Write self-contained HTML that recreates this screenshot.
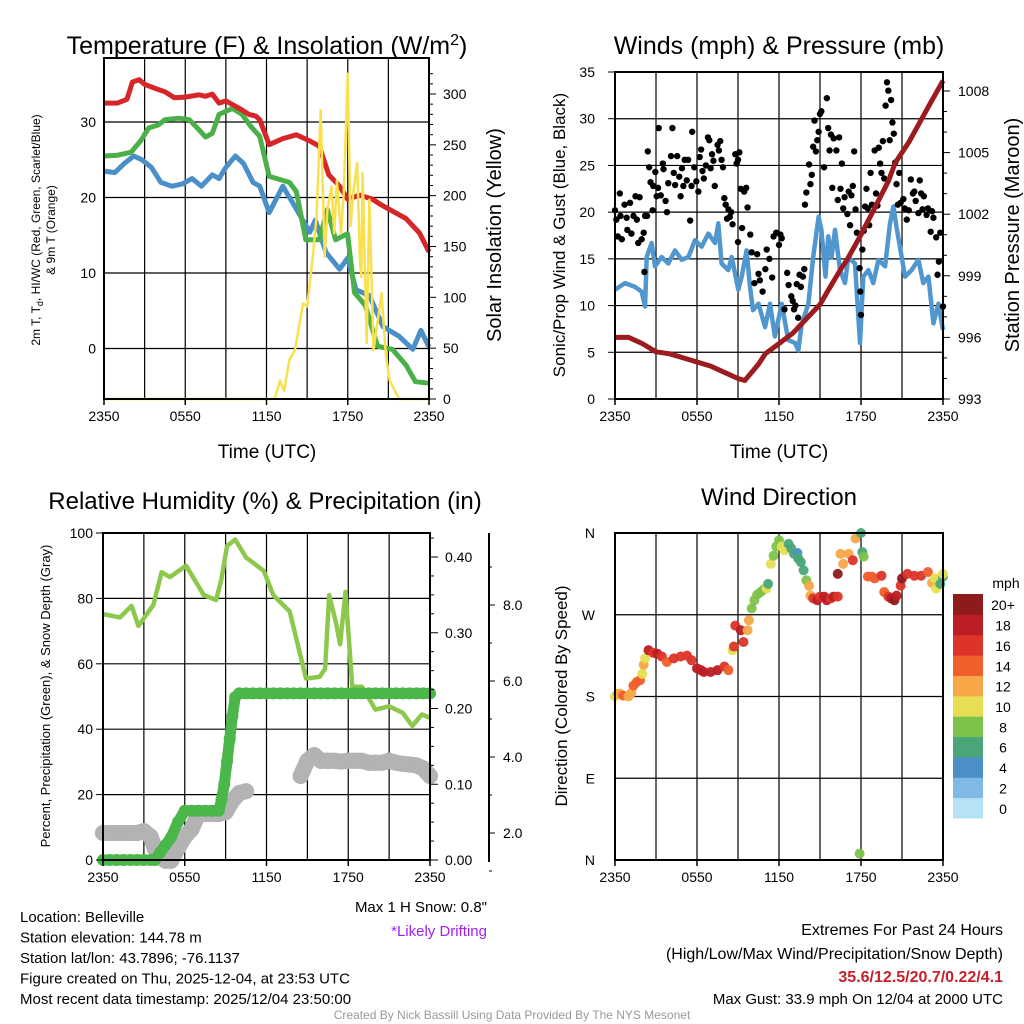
<!DOCTYPE html>
<html><head><meta charset="utf-8"><style>
body{margin:0;background:#fff;}
svg{display:block;font-family:"Liberation Sans",sans-serif;}
</style></head><body>
<svg id="c" width="1024" height="1024" viewBox="0 0 1024 1024"></svg>
<script>
// ---------- Panel 1: temperature & insolation ----------
const tRedH=[0,1,1.7,2.1,2.6,3,3.7,4.5,5.2,6,7,7.5,8,8.5,9,10,10.7,11.2,11.5,12.2,13.2,14.2,15.2,15.9,16.6,17.4,17.98,18.9,19.8,20.5,21.3,22.3,23.3,24];
const tRedV=[32.5,32.5,33,35.3,35.6,35,34.5,34,33.2,33.3,33.6,33.4,33.7,32.5,32.8,31.8,31,30.8,30.3,27,27.8,28.3,27.5,26.8,23,21.5,19.8,20.3,19.8,19,18.2,17.2,15.3,12.8];
const tGrnH=[0,1,2,2.7,3.3,4,4.5,5.5,6.3,7,7.5,8,8.5,9.5,10.2,10.8,11.5,12.2,13.7,14.2,14.9,15.9,16.5,17.1,17.98,18.5,19.3,20.2,21.3,22.3,23,24];
const tGrnV=[25.5,25.6,26,27.5,29.2,29.6,30.3,30.5,30.3,29,28,28.5,31,31.8,31,29.5,28.1,22.8,22,20.8,14.4,14.4,18.4,14.4,15.2,7.4,5.7,0.3,-0.1,-2.2,-4.4,-4.6];
const tBluH=[0,0.8,1.5,2.2,2.8,3.5,4.2,5,5.8,6.5,7.2,8,8.5,9,9.7,10.3,11,11.5,12.2,13.2,13.9,15.2,15.6,16.4,17.4,18,18.6,19.6,20.6,21.8,22.8,23.4,24];
const tBluV=[23.5,23.3,24.5,25.5,25,24,22,21.5,21.8,22.5,21.5,23,22.5,24,25.5,24.5,22,21.5,18,21.5,19.4,15.4,17,12.7,10.5,12,7.8,7,2.9,1.6,-0.1,2.4,0.2];
const solH=[0,12.6,13,13.3,13.7,14.1,14.7,15.0,15.4,15.7,16.0,16.3,16.5,16.8,17.0,17.2,17.5,17.7,18.0,18.2,18.4,18.7,18.9,19.0,19.1,19.4,19.6,19.9,20.5,20.8,21.1,21.8,24];
const solV=[0,0,18,8,39,48,94,91,137,180,284,140,186,209,163,215,163,202,320,170,202,232,137,120,222,55,196,48,104,45,18,0,0];
const tTicks=[0,10,20,30];
const solTicks=[0,50,100,150,200,250,300];
const timeLabels=["2350","0550","1150","1750","2350"];
// ---------- Panel 2: winds & pressure ----------
const windH=[0,0.73,1.46,1.95,2.2,2.32,2.68,2.93,3.41,3.9,4.39,4.88,5.37,5.85,6.34,6.83,7.32,7.56,7.8,8.29,8.54,9.02,9.27,9.63,9.88,10.1,10.5,10.98,11.34,11.7,12.2,12.68,13.17,13.41,13.66,14.15,14.5,14.9,15.1,15.4,15.6,15.85,16.1,16.46,16.83,17.07,17.56,17.93,18.17,18.54,18.9,19.27,19.76,20.12,20.37,20.6,20.98,21.22,21.7,22.2,22.56,22.93,23.3,23.66,24];
const windV=[11.7,12.4,12,11.5,9.9,15.2,16.7,14.2,15.2,14.5,15.9,14.9,15.2,17,16.3,17.7,16.7,18.8,14.5,13.8,15.2,11.7,13.1,15.9,12,9.5,10.2,7.7,10.2,6.7,10.2,6.3,6,5.2,8,10.2,15.2,19.5,18.1,13.1,17.4,15.2,18.1,13.8,12.4,15.2,14.5,6,13.1,13.8,12.4,14.9,14.2,18.8,20.6,18.4,15.2,13.1,13.8,14.9,12.4,13.1,8.1,10.2,7.4];
const gustH=[0,0.1,0.2,0.35,0.4,0.5,0.7,0.85,0.9,1.1,1.2,1.35,1.5,1.6,1.7,1.8,1.95,2.1,2.15,2.2,2.35,2.4,2.5,2.6,2.75,2.8,2.95,3.05,3.15,3.2,3.35,3.5,3.55,3.7,3.8,3.9,4.1,4.2,4.3,4.4,4.55,4.7,4.8,4.9,5,5.1,5.25,5.35,5.5,5.6,5.65,5.8,5.95,6.1,6.2,6.3,6.4,6.5,6.65,6.8,6.9,7,7.1,7.2,7.3,7.5,7.6,7.7,7.8,7.9,8,8.1,8.2,8.3,8.4,8.5,8.6,8.8,8.9,9,9.1,9.2,9.3,9.45,9.6,9.7,9.0,9.9,10,10.2,10.4,10.5,10.6,10.8,11,11.1,11.3,11.5,11.6,11.8,12,12.1,12.2,12.4,12.6,12.7,12.9,13,13.1,13.2,13.3,13.4,13.5,13.6,13.75,13.85,13.9,14,14.2,14.3,14.4,14.5,14.6,14.7,14.8,14.9,15,15.1,15.3,15.5,15.6,15.7,15.8,15.9,16,16.2,16.3,16.4,16.5,16.6,16.7,16.8,17,17.1,17.2,17.3,17.4,17.5,17.6,17.7,17.9,17.95,18,18.1,18.2,18.3,18.4,18.5,18.6,18.7,18.8,19,19.1,19.2,19.3,19.4,19.5,19.6,19.7,19.8,19.9,20,20.1,20.2,20.3,20.4,20.5,20.6,20.7,20.8,20.9,21.1,21.2,21.35,21.5,21.65,21.8,21.9,22,22.2,22.3,22.4,22.5,22.6,22.8,22.9,23.1,23.2,23.3,23.5,23.6,23.7,23.8,24];
const gustV=[20.2,19.2,17.4,22,19.6,17.1,20.8,19.4,18.1,21,17.7,19.6,21.7,19.2,16.7,21.6,17.1,17.8,13.6,19.6,19.6,26.5,24.8,23.2,20.2,22.8,24.3,21.7,22.6,29,21.8,25.2,24.6,21.2,20,23.1,26,29,24.2,22.9,26,23.8,21.7,24.7,22.8,25.6,23.4,25.6,19.1,22.8,28.6,24.8,23.3,22.2,25.9,26.7,24.4,23.6,25,28,27.7,24.7,26.2,25.5,22.8,27.2,26.6,27.6,25.6,24.8,21.5,20.8,19.3,20.3,19.5,20,18.7,26.2,25.2,25.6,26.4,22.5,18.3,22.2,22.6,20.5,16.8,17.6,15.7,12.4,15.5,13.4,12.7,11.5,13.9,16,15,13,17.4,17.8,16.5,17.6,17.2,9.6,13.5,12.2,11,10.5,9.6,10,12.3,8.7,13.3,12,13.1,13.9,20.8,22.1,25.1,23,24,27,29.8,26.5,27.7,28.6,30.5,30.8,24.8,32.2,29,26.6,28.3,22.6,27.9,26.6,21.3,28,22.5,25.2,20.4,21.6,19.8,22.2,18.6,21.8,22.8,26.5,20.3,17.8,14,11.5,9,16,18,20.6,22.5,20.4,18.6,24.2,20.8,26.6,22,20.7,26.9,25.2,24.2,27.6,23.6,31.4,33.9,33,27.7,32,29.6,28.4,25.3,23,20.8,24.2,21,21.4,20.4,19.2,20.2,23.5,22,22.2,21.2,19.9,23.4,22,20.3,21.7,19.7,20.4,17.9,20.1,19.4,17.3,13.3,14.7,17.8,9.9];
const presH=[0,1,2,3,4,5,6,7,8,9,9.5,10,10.5,11,12,13,14,15,15.6,16.5,17,18,19,20,20.5,21.5,22.9,24];
const presV=[996.0,996.0,995.7,995.3,995.2,995.0,994.8,994.6,994.3,994.0,993.9,994.3,994.7,995.2,995.7,996.2,996.9,997.6,998.3,999.3,999.8,1001.0,1002.3,1003.6,1004.5,1005.5,1007.2,1008.5];
const windTicks=[0,5,10,15,20,25,30,35];
const presTicks=[993,996,999,1002,1005,1008];
// ---------- Panel 3: RH, precip, snow ----------
const rhH=[0,1.25,2.1,2.6,3.7,4.3,4.9,6.1,7.4,8.3,8.7,9.1,9.7,10.5,11.8,12.5,13.7,14.9,15.9,16.3,16.6,17.1,17.4,17.8,18.3,19,20,21,22,22.7,23.4,24];
const rhV=[75.2,74.2,77.7,71.6,78,88,86.5,90,81,79.5,86,96,98,92.5,88.4,81,76,55.5,56,58.5,81,72.5,66,82,53,53,46,47,45,41,44.5,43.5];
const prH=[0,0.5,1,1.5,2,2.5,3,3.5,3.8,4.2,4.6,5,5.5,6,6.5,7,7.5,8,8.5,8.7,8.9,9.1,9.3,9.5,9.7,10,10.5,11,11.5,12,12.5,13,13.5,14,14.5,15,15.5,16,16.5,17,17.5,18,18.5,19,19.5,20,20.5,21,21.5,22,22.5,23,23.5,24];
const prV=[0,0,0,0,0,0,0,0,0,0.01,0.02,0.03,0.05,0.065,0.065,0.065,0.065,0.065,0.065,0.08,0.1,0.13,0.16,0.19,0.215,0.22,0.22,0.22,0.22,0.22,0.22,0.22,0.22,0.22,0.22,0.22,0.22,0.22,0.22,0.22,0.22,0.22,0.22,0.22,0.22,0.22,0.22,0.22,0.22,0.22,0.22,0.22,0.22,0.22];
const snH=[0,0.5,1,1.5,2,2.5,3,3.5,3.8,4.2,4.6,5,5.5,6,6.5,7,7.5,8,8.5,9,9.5,10,10.5,14.5,15,15.5,16,16.5,17,17.5,18,18.5,19,19.5,20,20.5,21,21.5,22,22.5,23,23.5,24];
const snV=[2.0,2.0,2.0,2.0,2.0,2.0,2.05,1.9,1.6,1.35,1.27,1.27,1.6,1.9,2.1,2.5,2.5,2.5,2.5,2.55,2.85,3.05,3.1,3.5,3.9,4.05,3.9,3.9,3.9,3.88,3.9,3.9,3.9,3.85,3.85,3.85,3.9,3.85,3.82,3.8,3.78,3.7,3.5];
const rhTicks=[0,20,40,60,80,100];
const prTicks=["0.00","0.10","0.20","0.30","0.40"];
const snTicks=["2.0","4.0","6.0","8.0"];
// ---------- Panel 4: wind direction ----------
const dirH=[0,0.2,0.37,0.6,0.98,1.2,1.35,1.6,1.84,2.0,2.1,2.2,2.45,2.8,3.1,3.43,3.8,4.3,4.8,5.27,5.6,6,6.3,6.5,7,7.5,8,8.3,8.6,8.7,8.8,9.2,9.4,9.7,9.8,10,10.2,10.4,10.65,10.9,11.1,11.2,11.4,11.6,11.8,12,12.2,12.4,12.7,12.9,13.1,13.35,13.4,13.6,13.8,14,14.2,14.3,14.5,14.8,15.0,15.3,15.5,15.8,16.0,16.3,16.3,16.5,16.7,17.1,17.4,17.6,18,17.9,18.1,18.2,18.5,18.8,19,19.5,19.7,20.0,20.2,20.45,20.6,20.9,21.0,21.4,21.9,22.4,22.9,23.2,23.4,23.5,23.6,23.8,24,24];
const dirDeg=[180,183,183,181,180,184,192,196,198,205,215,222,231,228,227,224,218,222,224,225,220,211,209,207,207,209,213,209,231,235,258,253,240,253,264,277,286,292,295,298,299,304,326,335,345,352,345,341,348,343,337,338,332,328,319,308,302,291,288,286,290,290,286,288,290,290,315,337,326,337,330,354,360,7,339,334,312,312,310,313,295,290,288,286,291,302,310,315,313,313,317,305,310,299,310,304,312,315];
const dirSpd=[10,12,12,13,12,12,13,14,14,10,12,9,18,16,17,16,14,16,16,16,16,17,18,18,17,18,16,13,10,16,16,17,16,12,12,8,8,8,8,8,10,6,10,8,8,8,10,10,6,6,6,4,6,6,6,8,12,12,16,18,16,17,18,16,17,16,20,12,12,12,15,12,6,8,6,8,13,13,13,16,14,16,18,20,17,16,20,16,16,16,14,12,10,10,10,6,6,10];
const spdLevels=["0","2","4","6","8","10","12","14","16","18","20+"];
const spdColors=["#b6e2f7","#7fb9e4","#4a8fc7","#4aa678","#7dc24b","#e6df53","#f7a648","#ef5f2c","#dd3429","#bb1e25","#8f1a1c"];
const dirLabels=["N","E","S","W","N"];

// ================= drawing =================
const NS="http://www.w3.org/2000/svg";
const svg=document.getElementById("c");
function mk(tag,attrs,parent){const e=document.createElementNS(NS,tag);for(const k in attrs)e.setAttribute(k,attrs[k]);(parent||svg).appendChild(e);return e;}
function txt(s,x,y,size,anchor,parent,extra){const e=mk("text",Object.assign({x:x,y:y,"font-size":size,"text-anchor":anchor||"middle",fill:"#000"},extra||{}),parent);e.textContent=s;return e;}
function lin(a,b){return v=>a[1]+(v-a[0])*(b[1]-a[1])/(b[0]-a[0]);}
function pathD(xs,ys,X,Y){return xs.map((h,i)=>(i?"L":"M")+X(h).toFixed(1)+","+Y(ys[i]).toFixed(1)).join("");}
function grid(g,x0,x1,y0,y1,X,yVals,Y){
  for(let h=3;h<24;h+=3){const l=mk("line",{x1:X(h),x2:X(h),y1:y0,y2:y1,stroke:"#000","stroke-width":1.2},g);
    
    }
  yVals.forEach(v=>{const yy=Y(v);if(yy>y0+1&&yy<y1-1){const l=mk("line",{x1:x0,x2:x1,y1:yy,y2:yy,stroke:"#000","stroke-width":1.2},g);
    
    }});
}
function frame(g,x0,x1,y0,y1){const r=mk("rect",{x:x0,y:y0,width:x1-x0,height:y1-y0,fill:"none",stroke:"#000","stroke-width":2},g);
  
  }
function xTicks(g,X,y1){timeLabels.forEach((s,i)=>{const h=i*6;const t=txt(s,X(h),y1+22,14,"middle",g);
  
  
  mk("line",{x1:X(h),x2:X(h),y1:y1,y2:y1+6,stroke:"#000","stroke-width":1.5},g);});}

// ---- Panel 1 ----
(function(){
 const g=mk("g",{});
 
 
 const x0=104,x1=429,y0=58,y1=399;
 const X=lin([0,x0],[24,x1]), Y=lin([0,348.5],[30,122]), YS=lin([0,399],[300,94]);
 grid(g,x0,x1,y0,y1,X,tTicks,Y);
 const ps=[[solH,solV,"#f9e04f",2.5,YS,'solar-insolation-line'],[tBluH,tBluV,"#4a8fc7",5,Y,'blue-temp-line'],[tGrnH,tGrnV,"#4bb04a",5,Y,'dewpoint-line'],[tRedH,tRedV,"#d6262a",5,Y,'temperature-line']];
 [ps[1],ps[2],ps[3],ps[0]].forEach(p=>{const e=mk("path",{d:pathD(p[0],p[1],X,p[4]),fill:"none",stroke:p[2],"stroke-width":p[3],"stroke-linejoin":"round"},g);
   
   });
 frame(g,x0,x1,y0,y1);
 tTicks.forEach(v=>{const t=txt(String(v),x0-8,Y(v)+5,14,"end",g);
   
   });
 for(let v=0;v<=320;v+=10){const big=v%50==0;mk("line",{x1:x1,x2:x1+(big?7:4),y1:YS(v),y2:YS(v),stroke:"#000","stroke-width":1},g);}
 solTicks.forEach(v=>{const t=txt(String(v),x1+14,YS(v)+5,14,"start",g);
   
   });
 xTicks(g,X,y1);
 const t1=txt("",267,54,25,"middle",g);t1.innerHTML='Temperature (F) &amp; Insolation (W/m<tspan dy="-9" font-size="16">2</tspan><tspan dy="9">)</tspan>';
 
 
 const xl=txt("Time (UTC)",267,458,19,"middle",g);
 
 
 const yl=txt("",0,0,12,"middle",g,{transform:"translate(40,230) rotate(-90)"});
 yl.innerHTML='2m T, T<tspan dy="3" font-size="9">d</tspan><tspan dy="-3">, HI/WC (Red, Green, Scarlet/Blue)</tspan>';
 
 
 const yl2=txt("& 9m T (Orange)",0,0,12,"middle",g,{transform:"translate(55,230) rotate(-90)"});
 
 
 const yr=txt("Solar Insolation (Yellow)",0,0,20,"middle",g,{transform:"translate(501,235) rotate(-90)"});
 
 
})();

// ---- Panel 2 ----
(function(){
 const g=mk("g",{});
 
 
 const x0=615,x1=943,y0=72,y1=399;
 const X=lin([0,x0],[24,x1]), Y=lin([0,399],[35,72]), YP=lin([993,399],[1008,91]);
 grid(g,x0,x1,y0,y1,X,windTicks,Y);
 const w=mk("path",{d:pathD(windH,windV,X,Y),fill:"none",stroke:"#5097d0","stroke-width":4.5,"stroke-linejoin":"round"},g);
 
 
 gustH.forEach((h,i)=>{const c=mk("circle",{cx:X(h),cy:Y(gustV[i]),r:3.2,fill:"#000"},g);
   
   });
 const p=mk("path",{d:pathD(presH,presV,X,YP),fill:"none",stroke:"#9b1b1e","stroke-width":5,"stroke-linejoin":"round"},g);
 
 
 frame(g,x0,x1,y0,y1);
 windTicks.forEach(v=>{const t=txt(String(v),x0-20,Y(v)+5,14,"end",g);
   
   
   mk("line",{x1:x0-7,x2:x0,y1:Y(v),y2:Y(v),stroke:"#000","stroke-width":1},g);});
 for(let v=993;v<=1008.5;v+=1){mk("line",{x1:x1,x2:x1+(v%3==0?7:4),y1:YP(v),y2:YP(v),stroke:"#000","stroke-width":1},g);}
 presTicks.forEach(v=>{const t=txt(String(v),x1+15,YP(v)+5,14,"start",g);
   
   });
 xTicks(g,X,y1);
 const t1=txt("Winds (mph) & Pressure (mb)",779,54,25,"middle",g);
 
 
 const xl=txt("Time (UTC)",779,458,19,"middle",g);
 
 
 const yl=txt("Sonic/Prop Wind & Gust (Blue, Black)",0,0,17,"middle",g,{transform:"translate(565,235) rotate(-90)"});
 
 
 const yr=txt("Station Pressure (Maroon)",0,0,20,"middle",g,{transform:"translate(1019,235) rotate(-90)"});
 
 
})();

// ---- Panel 3 ----
(function(){
 const g=mk("g",{});
 
 
 const x0=103,x1=430,y0=533,y1=860;
 const X=lin([0,x0],[24,x1]), Y=lin([0,860],[100,533]), YR=lin([0,860],[0.4,557]), YSn=lin([2,833],[8,605]);
 grid(g,x0,x1,y0,y1,X,rhTicks,Y);
 for(let i=0;i<snH.length;i++){const c=mk("circle",{cx:X(snH[i]),cy:YSn(snV[i]),r:8,fill:"#b3b3b3"},g);
   
   }
 for(let i=0;i<snH.length-1;i++){if(snH[i+1]-snH[i]>1)continue;const l=mk("line",{x1:X(snH[i]),y1:YSn(snV[i]),x2:X(snH[i+1]),y2:YSn(snV[i+1]),stroke:"#b3b3b3","stroke-width":16,"stroke-linecap":"round"},g);
   
   }
 const rh=mk("path",{d:pathD(rhH,rhV,X,Y),fill:"none",stroke:"#8cc84b","stroke-width":4.5,"stroke-linejoin":"round"},g);
 
 
 for(let i=0;i<prH.length-1;i++){const l=mk("line",{x1:X(prH[i]),y1:YR(prV[i]),x2:X(prH[i+1]),y2:YR(prV[i+1]),stroke:"#4bb649","stroke-width":11,"stroke-linecap":"round"},g);
   
   }
 prH.forEach((h,i)=>{const c=mk("circle",{cx:X(h),cy:YR(prV[i]),r:6,fill:"#4bb649"},g);
   
   });
 frame(g,x0,x1,y0,y1);
 rhTicks.forEach(v=>{const t=txt(String(v),x0-10,Y(v)+5,14,"end",g);
   
   
   mk("line",{x1:x0-7,x2:x0,y1:Y(v),y2:Y(v),stroke:"#000","stroke-width":1},g);});
 for(let v=0;v<=0.43;v+=0.025){const big=Math.abs(v*10-Math.round(v*10))<0.01;mk("line",{x1:x1,x2:x1+(big?8:4),y1:YR(v),y2:YR(v),stroke:"#000","stroke-width":1},g);}
 prTicks.forEach(s=>{const t=txt(s,x1+15,YR(parseFloat(s))+5,14,"start",g);
   
   });
 mk("line",{x1:489,x2:489,y1:533,y2:862,stroke:"#000","stroke-width":2},g);
 for(let v=1;v<=9.5;v+=1){mk("line",{x1:489,x2:489+(v%2==0?6:3),y1:YSn(v),y2:YSn(v),stroke:"#000","stroke-width":1},g);}
 snTicks.forEach(s=>{const t=txt(s,503,YSn(parseFloat(s))+5,14,"start",g);
   
   });
 xTicks(g,X,y1);
 const t1=txt("Relative Humidity (%) & Precipitation (in)",265,509,24,"middle",g);
 
 
 const yl=txt("Percent, Precipitation (Green), & Snow Depth (Gray)",0,0,13,"middle",g,{transform:"translate(50,696) rotate(-90)"});
 
 
})();

// ---- Panel 4 ----
(function(){
 const g=mk("g",{});
 
 
 const x0=615,x1=943,y0=533,y1=860;
 const X=lin([0,x0],[24,x1]), Y=lin([0,860],[360,533]);
 grid(g,x0,x1,y0,y1,X,[90,180,270],Y);
 dirH.forEach((h,i)=>{const s=dirSpd[i];const idx=Math.min(10,Math.max(0,Math.floor((s+1)/2)));const c=mk("circle",{cx:X(h),cy:Y(dirDeg[i]),r:5,fill:spdColors[idx],"fill-opacity":0.95},g);
   
   });
 frame(g,x0,x1,y0,y1);
 dirLabels.forEach((s,i)=>{const t=txt(s,x0-20,Y(i*90)+5,14,"end",g);
   
   });
 xTicks(g,X,y1);
 const t1=txt("Wind Direction",779,505,24,"middle",g);
 
 
 const yl=txt("Direction (Colored By Speed)",0,0,17,"middle",g,{transform:"translate(567,696) rotate(-90)"});
 
 
 const cb=mk("g",{},g);
 
 
 const h=(818-594)/11;
 spdLevels.forEach((s,i)=>{const yy=818-(i+1)*h;const r=mk("rect",{x:953,y:yy,width:30,height:h+0.5,fill:spdColors[i]},cb);
   
   
   const t=txt(s,1003,yy+h/2+6,14,"middle",cb);
   
   });
 const u=txt("mph",1006,588,14,"middle",cb);
 
 
})();

// ---- footer text ----
const infoLines=["Location: Belleville","Station elevation: 144.78 m","Station lat/lon: 43.7896; -76.1137","Figure created on Thu, 2025-12-04, at 23:53 UTC","Most recent data timestamp: 2025/12/04 23:50:00"];
infoLines.forEach((s,i)=>{const t=txt(s,20,922+i*20.5,15,"start");
 
 });
const sn=txt('Max 1 H Snow: 0.8"',487,912,15,"end");


const dr=txt("*Likely Drifting",487,936,15,"end",null,{fill:"#a020f0"});


const ex1=txt("Extremes For Past 24 Hours",1003,935,16,"end");


const ex2=txt("(High/Low/Max Wind/Precipitation/Snow Depth)",1003,959,16,"end");


const ex3=txt("35.6/12.5/20.7/0.22/4.1",1003,982,16,"end",null,{fill:"#c8202a","font-weight":"bold"});


const ex4=txt("Max Gust: 33.9 mph On 12/04 at 2000 UTC",1003,1004,15,"end");


const cr=txt("Created By Nick Bassill Using Data Provided By The NYS Mesonet",512,1019,12,"middle",null,{fill:"#999"});


</script>
</body></html>
